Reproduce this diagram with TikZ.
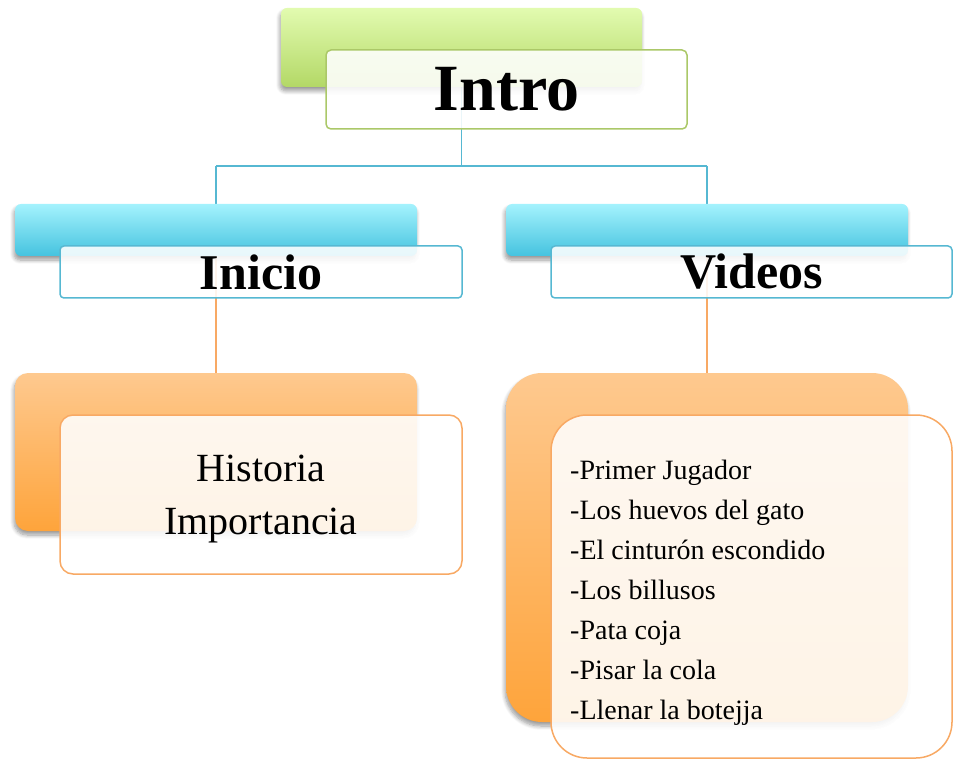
\documentclass[tikz,border=0pt]{standalone}
\usepackage{fontspec}
\setmainfont{Liberation Serif}
\usetikzlibrary{shadows.blur}
\definecolor{gtop}{HTML}{E2FBB0}
\definecolor{gbot}{HTML}{B3D866}
\definecolor{gline}{HTML}{ABC868}
\definecolor{btop}{HTML}{A4F2FD}
\definecolor{bbot}{HTML}{45C3DF}
\definecolor{bline}{HTML}{56B8D2}
\definecolor{otop}{HTML}{FEC98F}
\definecolor{obot}{HTML}{FEA43B}
\definecolor{oline}{HTML}{F8A964}
\tikzset{
  x=1pt, y=-1pt,
  backbox/.style={rounded corners=#1, inner sep=0pt, draw=none,
    blur shadow={shadow blur steps=8, shadow blur radius=4pt, shadow xshift=-1pt, shadow yshift=-4pt, shadow opacity=40}},
  frontbox/.style={rounded corners=#1, inner sep=0pt, fill=white, fill opacity=0.88, text opacity=1, line width=1.5pt},
  plaintext/.style={inner sep=0pt},
  connb/.style={draw=bline, line width=1.4pt},
  conno/.style={draw=oline, line width=1.4pt},
}
\begin{document}
\begin{tikzpicture}
\useasboundingbox (0,0) rectangle (953,759);
% connectors
\coordinate (ib) at (461.5,87);
\coordinate (hb) at (461.5,166);
\coordinate (hl) at (216,166);
\coordinate (hr) at (707,166);
\coordinate (il) at (216,204);
\coordinate (ir) at (707,204);
\coordinate (ol1) at (216,256);
\coordinate (ol2) at (216,373);
\coordinate (or1) at (707,256);
\coordinate (or2) at (707,373);
\draw[connb] (ib) -- (hb);
\draw[connb] (hl) -- (hr);
\draw[connb] (hl) -- (il);
\draw[connb] (hr) -- (ir);
\draw[conno] (ol1) -- (ol2);
\draw[conno] (or1) -- (or2);
% back boxes
\node[backbox=6pt, top color=gtop, bottom color=gbot, minimum width=361pt, minimum height=79pt] (introback) at (461.5,47.5) {};
\node[backbox=6pt, top color=btop, bottom color=bbot, minimum width=402pt, minimum height=52pt] (inicioback) at (216,230) {};
\node[backbox=6pt, top color=btop, bottom color=bbot, minimum width=402pt, minimum height=52pt] (videosback) at (707,230) {};
\node[backbox=13pt, top color=otop, bottom color=obot, minimum width=402pt, minimum height=158pt] (histback) at (216,452) {};
\node[backbox=36pt, top color=otop, bottom color=obot, minimum width=402pt, minimum height=349pt] (listback) at (707,547.5) {};
% front boxes
\node[frontbox=5pt, draw=gline, minimum width=361pt, minimum height=79pt, font=\fontsize{66}{70}\selectfont\bfseries] (intro) at (506.5,89.5) {Intro};
\node[frontbox=4pt, draw=bline, minimum width=402pt, minimum height=52pt, font=\fontsize{50}{54}\selectfont\bfseries] (inicio) at (261,272) {Inicio};
\node[frontbox=4pt, draw=bline, minimum width=401pt, minimum height=52pt, font=\fontsize{50}{54}\selectfont\bfseries] (videos) at (751.5,272) {Videos};
\node[frontbox=13pt, draw=oline, minimum width=402pt, minimum height=159pt] (hist) at (261,494.5) {};
\node[plaintext, align=center, font=\fontsize{40}{53}\selectfont] (histtext) at (261,499) {Historia\\Importancia};
\node[frontbox=36pt, draw=oline, minimum width=401pt, minimum height=343pt] (list) at (751.5,586.5) {};
\node[plaintext, anchor=north west, align=left, font=\fontsize{28}{40}\selectfont] (vlist) at (570,460) {-Primer Jugador\\-Los huevos del gato\\-El cinturón escondido\\-Los billusos\\-Pata coja\\-Pisar la cola\\-Llenar la botejja};
\end{tikzpicture}
\end{document}
